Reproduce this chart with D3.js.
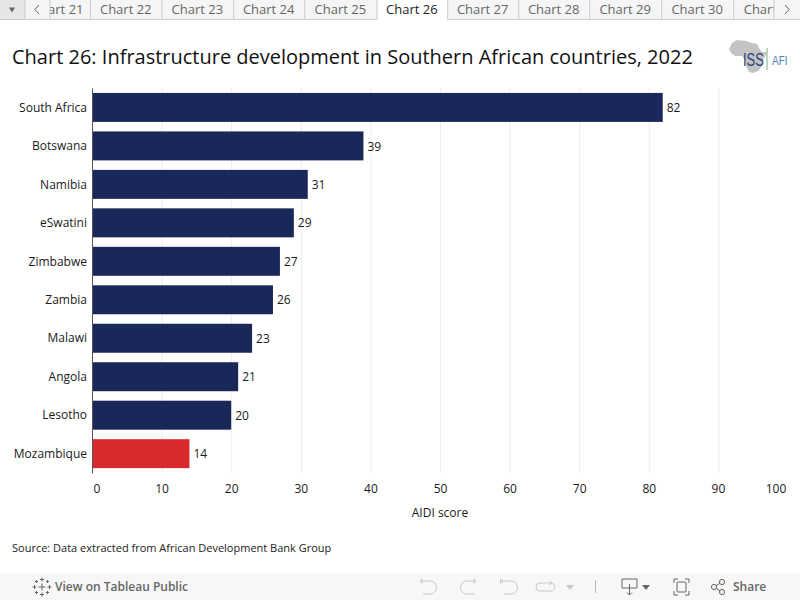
<!DOCTYPE html>
<html>
<head>
<meta charset="utf-8">
<script src="https://cdn.jsdelivr.net/npm/d3@7"></script>
<style>
    html, body { margin: 0; padding: 0; background: #fff; overflow: hidden; }
    text { font-family: "Open Sans", sans-serif; }
</style>
</head>
<body>
<div id="chart"></div>
<script>
// Chart values
const countries = ["South Africa", "Botswana", "Namibia", "eSwatini", "Zimbabwe", "Zambia", "Malawi", "Angola", "Lesotho", "Mozambique"];
const scores = [82, 39, 31, 29, 27, 26, 23, 21, 20, 14];
const xTicks = [0, 10, 20, 30, 40, 50, 60, 70, 80, 90, 100];
const highlighted = ["Mozambique"];

// Tab strip
const tabLabels = ["Chart 21", "Chart 22", "Chart 23", "Chart 24", "Chart 25", "Chart 26", "Chart 27", "Chart 28", "Chart 29", "Chart 30", "Chart 31"];
const tabEdges = [50, 90.5, 162, 233.7, 304.7, 377, 447.7, 518.7, 589.7, 661.7, 733.7, 774];
const activeTab = "Chart 26";

const svg = d3.select("#chart").append("svg")
    .attr("width", 800)
    .attr("height", 600);

// Scales
const x = d3.scaleLinear().domain([0, 100]).range([92, 788]);
const y = d3.scaleBand().domain(countries).range([88.2, 472.9]).paddingInner(0.247).paddingOuter(0.1235);

// Gridlines
svg.append("g").selectAll("line")
    .data(xTicks.slice(1, -1))
    .join("line")
    .attr("x1", d => x(d) + 0.5)
    .attr("x2", d => x(d) + 0.5)
    .attr("y1", 88)
    .attr("y2", 473)
    .attr("stroke", "#ececec");

// Bars
svg.append("g").selectAll("rect")
    .data(countries)
    .join("rect")
    .attr("x", x(0))
    .attr("y", d => y(d))
    .attr("width", (d, i) => x(scores[i]) - x(0))
    .attr("height", y.bandwidth())
    .attr("fill", d => highlighted.includes(d) ? "#d9292e" : "#1a2859");

// Value labels
svg.append("g").selectAll("text")
    .data(countries)
    .join("text")
    .attr("x", (d, i) => x(scores[i]) + 4)
    .attr("y", d => y(d) + y.bandwidth() / 2 + 0.4)
    .attr("dy", "0.35em")
    .attr("font-size", 12)
    .attr("fill", "#1a1a1a")
    .text((d, i) => scores[i]);

// Category axis
const yAxis = svg.append("g")
    .attr("transform", "translate(92,0.4)")
    .call(d3.axisLeft(y).tickSize(0).tickPadding(5));
yAxis.select(".domain").attr("stroke", "#555").attr("d", "M0.5,88V473");
yAxis.selectAll("text").attr("font-size", 12).attr("fill", "#1a1a1a").style("font-family", '"Open Sans", sans-serif');

// Value axis, Tableau pushes the two end labels inside the pane
const xAxis = svg.append("g")
    .attr("transform", "translate(0,473)")
    .call(d3.axisBottom(x).tickValues(xTicks).tickSize(0).tickPadding(11));
xAxis.select(".domain").remove();
xAxis.selectAll("text")
    .attr("font-size", 12)
    .attr("fill", "#1a1a1a")
    .style("font-family", '"Open Sans", sans-serif')
    .attr("dx", d => d === 0 ? 4.5 : d === 100 ? -12.5 : d === 90 ? -0.5 : 0);

svg.append("text")
    .attr("x", 440).attr("y", 517)
    .attr("text-anchor", "middle")
    .attr("font-size", 12)
    .attr("fill", "#1a1a1a")
    .text("AIDI score");

// Title and source
svg.append("text")
    .attr("x", 12).attr("y", 64)
    .attr("font-size", 20)
    .attr("fill", "#111")
    .text("Chart 26: Infrastructure development in Southern African countries, 2022");

svg.append("text")
    .attr("x", 12).attr("y", 552)
    .attr("font-size", 11)
    .attr("fill", "#222")
    .text("Source: Data extracted from African Development Bank Group");

// Tabs
const tabs = svg.append("g");
tabs.append("rect").attr("width", 800).attr("height", 19).attr("fill", "#f5f5f5");
tabs.append("rect").attr("width", 25).attr("height", 19).attr("fill", "#e6e6e6");
tabLabels.forEach((label, i) => {
    const x0 = tabEdges[i], x1 = tabEdges[i + 1];
    const active = label === activeTab;
    const clipId = "tab" + i;
    svg.append("clipPath").attr("id", clipId).append("rect")
        .attr("x", x0).attr("y", 0).attr("width", x1 - x0).attr("height", 20);
    if (active) tabs.append("rect").attr("x", x0).attr("width", x1 - x0).attr("height", 20).attr("fill", "#fff");
    tabs.append("text")
        .attr("clip-path", `url(#${clipId})`)
        .attr("x", i === 0 ? x1 - 7 : i === tabLabels.length - 1 ? x0 + 10 : (x0 + x1) / 2 - 0.5)
        .attr("y", 14)
        .attr("text-anchor", i === 0 ? "end" : i === tabLabels.length - 1 ? "start" : "middle")
        .attr("font-size", 13)
        .attr("fill", active ? "#222" : "#666")
        .text(label);
});
const activeIdx = tabLabels.indexOf(activeTab);
tabs.append("path")
    .attr("d", `M0,19.5H${tabEdges[activeIdx]}M${tabEdges[activeIdx + 1]},19.5H800`)
    .attr("stroke", "#cbcbcb").attr("fill", "none");
tabs.selectAll("line.edge")
    .data([25, ...tabEdges])
    .join("line")
    .attr("class", "edge")
    .attr("x1", d => d).attr("x2", d => d)
    .attr("y1", 0).attr("y2", 19.5)
    .attr("stroke", "#cbcbcb");
tabs.append("path").attr("d", "M9,7.5h6l-3,5z").attr("fill", "#666");
tabs.append("path").attr("d", "M39,5l-4,4.5l4,4.5").attr("fill", "none").attr("stroke", "#666");
tabs.append("path").attr("d", "M785,5l4,4.5l-4,4.5").attr("fill", "none").attr("stroke", "#666");

// Logo
const logo = svg.append("g");
logo.append("path")
    .attr("d", "M737,40 L746,41 L752,43 L757,44 L759,48 L762,52 L767,52 L765,57 L762,61 L762,66 L758,71 L753,73 L749,72 L746,66 L745,60 L742,56 L735,56 L731,53 L729,49 L732,43 Z")
    .attr("fill", "#c4c4c4");
logo.append("text").attr("x", 743).attr("y", 66).attr("font-size", 19).style("font-family", '"Liberation Sans Narrow", "Liberation Sans"').attr("textLength", 21).attr("lengthAdjust", "spacingAndGlyphs").attr("fill", "#26407a").text("ISS");
logo.append("line").attr("x1", 767).attr("x2", 767).attr("y1", 48).attr("y2", 70).attr("stroke", "#7fae7a");
logo.append("text").attr("x", 772).attr("y", 65).attr("font-size", 13).style("font-family", '"Liberation Sans Narrow", "Liberation Sans"').attr("textLength", 15.5).attr("lengthAdjust", "spacingAndGlyphs").attr("fill", "#4a7fbf").text("AFI");

// Bottom toolbar
const bar = svg.append("g");
bar.append("rect").attr("y", 573).attr("width", 800).attr("height", 27).attr("fill", "#f7f7f7");
const plus = (cx, cy, r) => `M${cx - r},${cy}H${cx + r}M${cx},${cy - r}V${cy + r}`;
const sparkPlus = [[42, 587, 3.5], [42, 579.5, 2], [42, 594.5, 2], [34.5, 587, 2], [49.5, 587, 2], [36.5, 581.5, 1.5], [47.5, 581.5, 1.5], [36.5, 592.5, 1.5], [47.5, 592.5, 1.5]];
bar.append("path").attr("d", sparkPlus.map(p => plus(p[0], p[1], p[2])).join("")).attr("stroke", "#666").attr("fill", "none");
bar.append("text").attr("x", 55).attr("y", 591).attr("font-size", 12).attr("font-weight", 600).attr("fill", "#666").text("View on Tableau Public");

const faint = "#c9c9c9";
bar.append("path").attr("d", "M420,581h10a6,6 0 0 1 0,13h-7M420,581l3,-2M420,581l3,2").attr("fill", "none").attr("stroke", faint);
bar.append("path").attr("d", "M476,581h-9a6,6 0 0 0 0,13h8M476,581l-3,-2M476,581l-3,2").attr("fill", "none").attr("stroke", faint);
bar.append("path").attr("d", "M500.5,579v5M501,581h10a6,6 0 0 1 0,13h-7M503,579l-2,2l2,2").attr("fill", "none").attr("stroke", faint);
bar.append("path").attr("d", "M552,583h-12a3.5,3.5 0 0 0 0,8h9a3.5,3.5 0 0 0 3,-8M552,583l-3,-2M552,583l-3,2").attr("fill", "none").attr("stroke", faint);
bar.append("path").attr("d", "M566,585h8l-4,5z").attr("fill", faint);
bar.append("line").attr("x1", 595.5).attr("x2", 595.5).attr("y1", 580).attr("y2", 593).attr("stroke", "#bbb");

const dark = "#666";
bar.append("path").attr("d", "M629,588h-7v-9h15v9h-7M629.5,584v11M627,592.5l2.5,2.5l2.5,-2.5").attr("fill", "none").attr("stroke", dark);
bar.append("path").attr("d", "M642,585h8l-4,5z").attr("fill", dark);
bar.append("path").attr("d", "M678,579h-4v4M685,579h4v4M678,595h-4v-4M685,595h4v-4").attr("fill", "none").attr("stroke", dark);
bar.append("rect").attr("x", 677).attr("y", 582).attr("width", 9).attr("height", 10).attr("rx", 1).attr("fill", "none").attr("stroke", dark);
bar.append("path").attr("d", "M714,587L722,582M714,587L722,592").attr("stroke", dark);
[[714, 587], [722, 582], [722, 592]].forEach(p => {
    bar.append("circle").attr("cx", p[0]).attr("cy", p[1]).attr("r", 2.6).attr("fill", "#f7f7f7").attr("stroke", dark);
});
bar.append("text").attr("x", 733).attr("y", 591).attr("font-size", 12).attr("font-weight", 600).attr("fill", dark).text("Share");
</script>
</body>
</html>
